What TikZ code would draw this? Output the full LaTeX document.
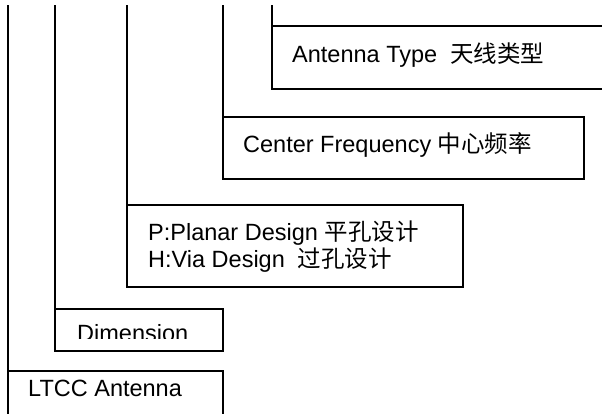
\documentclass[tikz,border=0pt]{standalone}
\usepackage{fontspec}
\setmainfont{Liberation Sans}
\newfontfamily\cjk{Noto Sans CJK SC}
\begin{document}
\begin{tikzpicture}[x=1pt,y=-1pt,
  box/.style={draw,line width=1.3pt,rectangle,anchor=north west,inner sep=0pt,outer sep=0pt},
  lbl/.style={anchor=base west,inner sep=0pt,font=\fontsize{23.5}{27}\selectfont},
  conn/.style={line width=1.3pt}]
\useasboundingbox (0,0) rectangle (602,413);
% boxes
\node[box,minimum width=340pt,minimum height=63pt] (at) at (272,26) {};
\node[box,minimum width=361pt,minimum height=62pt] (cf) at (223,117) {};
\node[box,minimum width=336pt,minimum height=82pt] (ph) at (127,205) {};
\node[box,minimum width=168pt,minimum height=42pt] (dim) at (55,309) {};
\node[box,minimum width=215pt,minimum height=55pt] (ltcc) at (8,371) {};
% top free ends
\coordinate (t1) at (8,5);
\coordinate (t2) at (55,5);
\coordinate (t3) at (127,5);
\coordinate (t4) at (223,5);
\coordinate (t5) at (272,5);
\draw[conn] (t1) -- (ltcc.north west);
\draw[conn] (t2) -- (dim.north west);
\draw[conn] (t3) -- (ph.north west);
\draw[conn] (t4) -- (cf.north west);
\draw[conn] (t5) -- (at.north west);
% texts
\node[lbl] (atl) at (292,62) {Antenna Type\ \ {\cjk 天线类型}};
\node[lbl] (cfl) at (243,152) {Center Frequency {\cjk 中心频率}};
\node[lbl] (ph1) at (148,240) {P:Planar Design {\cjk 平孔设计}};
\node[lbl] (ph2) at (148,267) {H:Via Design\ \ {\cjk 过孔设计}};
\begin{scope}
\clip (55,309) rectangle (223,338);
\node[lbl] (diml) at (77,341) {Dimension};
\end{scope}
\node[lbl] (ltccl) at (28,396) {LTCC Antenna};
\end{tikzpicture}
\end{document}
